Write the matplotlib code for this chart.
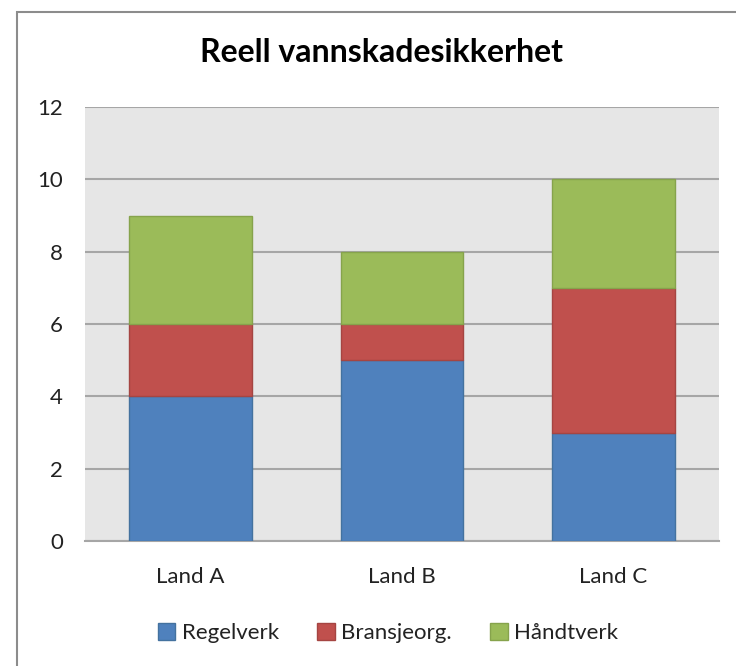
import numpy as np
import matplotlib
matplotlib.use("Agg")
import matplotlib.pyplot as plt
from matplotlib.patches import Rectangle

plt.rcParams['font.family'] = ['Lato', 'DejaVu Sans']

categories = ['Land A', 'Land B', 'Land C']
series_names = ['Regelverk', 'Bransjeorg.', 'Håndtverk']
regelverk = [4, 5, 3]
bransjeorg = [2, 1, 4]
handtverk = [3, 2, 3]
yticks = [0, 2, 4, 6, 8, 10, 12]

colors = ['#4f81bd', '#c0504d', '#9bbb59']
edges = ['#44729f', '#a54542', '#86a34c']

fig = plt.figure(figsize=(7.36, 6.66), dpi=100)
W, H = 736, 666
ax = fig.add_axes([85 / W, 1 - 541 / H, (719 - 85) / W, (541 - 107) / H])
ax.set_facecolor('#e6e6e6')

x = np.arange(len(categories))
bottom = np.zeros(len(categories))
for vals, name, c, ec in zip([regelverk, bransjeorg, handtverk], series_names, colors, edges):
    ax.bar(x, vals, 0.58, bottom=bottom, color=c, edgecolor=ec, linewidth=1, label=name, zorder=3)
    bottom += np.array(vals)

ax.set_xlim(-0.5, 2.5)
ax.set_ylim(0, 12)
ax.set_yticks(yticks)
ax.set_xticks(x)
ax.set_xticklabels(categories)
ax.grid(axis='y', color='#a6a6a6', linewidth=1.5, zorder=1)
ax.set_axisbelow(True)
for s in ['top', 'right', 'left']:
    ax.spines[s].set_visible(False)
ax.spines['bottom'].set_color('#a6a6a6')
ax.spines['bottom'].set_linewidth(1.5)
ax.tick_params(axis='both', length=0, labelsize=16, colors='#222222')
ax.tick_params(axis='y', pad=16)
ax.tick_params(axis='x', pad=19)

fig.text(382 / W, 1 - 53 / H, 'Reell vannskadesikkerhet', ha='center', va='center',
         fontsize=23, fontweight='bold')

fig.legend(loc='center', bbox_to_anchor=(388 / W, 1 - 633 / H), ncol=3, frameon=False,
           fontsize=16, handlelength=0.8, handleheight=0.8, handletextpad=0.3,
           columnspacing=1.7, labelcolor='#222222')

# outer chart frame
fig.patches.append(Rectangle((17 / W, -0.1), 1.2, 1 - 12 / H + 0.1, transform=fig.transFigure,
                             fill=False, edgecolor='#8c8c8c', linewidth=1.5))

fig.savefig('out.png', dpi=100)
